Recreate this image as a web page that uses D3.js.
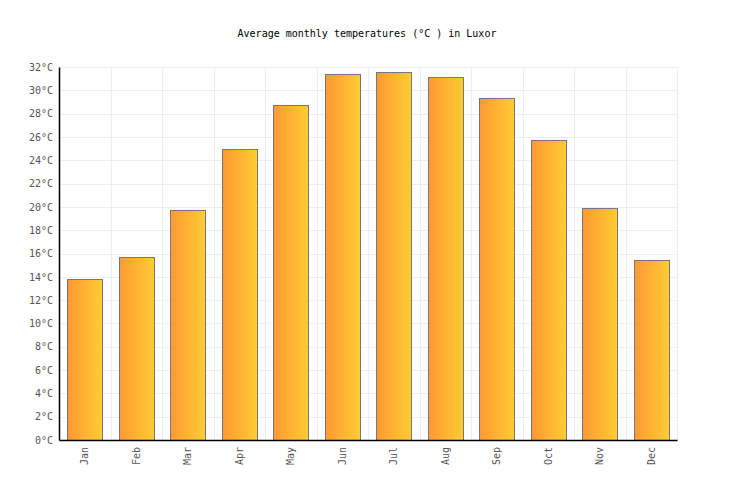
<!DOCTYPE html>
<html><head><meta charset="utf-8">
<script src="https://cdn.jsdelivr.net/npm/d3@7"></script>
<style>body{margin:0;background:#fff}svg{display:block}</style>
</head><body>
<svg id="c" width="736" height="500"></svg>
<script>
const months = ["Jan","Feb","Mar","Apr","May","Jun","Jul","Aug","Sep","Oct","Nov","Dec"];
const temps = [13.8,15.7,19.7,25.0,28.7,31.4,31.6,31.1,29.3,25.7,19.9,15.4];
const yTicks = [0,2,4,6,8,10,12,14,16,18,20,22,24,26,28,30,32];
const title = "Average monthly temperatures (°C ) in Luxor";

const svg = d3.select("#c");
const font = "'DejaVu Sans Mono', monospace";
const L=59, R=677, T=67, B=440;
const x = d3.scaleBand().domain(months).range([L,R]).paddingInner(0.33).paddingOuter(0.165);
const xg = d3.scaleBand().domain(months).range([L,R]);
const y = d3.scaleLinear().domain([0,32]).range([B,T]);

const defs = svg.append("defs");
const g = defs.append("linearGradient").attr("id","gr").attr("x1","0").attr("x2","1").attr("y1","0").attr("y2","0");
g.append("stop").attr("offset","0").attr("stop-color","#ff9933");
g.append("stop").attr("offset","1").attr("stop-color","#ffcc33");

svg.append("text").attr("x",367).attr("y",37).attr("text-anchor","middle")
  .attr("font-family",font).attr("font-size",10).attr("fill","#000").text(title);

// grid
svg.append("g").selectAll("line").data(yTicks).join("line")
  .attr("x1",L).attr("x2",R).attr("y1",d=>Math.round(y(d))+0.5).attr("y2",d=>Math.round(y(d))+0.5)
  .attr("stroke","#eeeeee");
svg.append("g").selectAll("line").data(months).join("line")
  .attr("x1",d=>Math.round(xg(d)+xg.bandwidth())+0.5).attr("x2",d=>Math.round(xg(d)+xg.bandwidth())+0.5)
  .attr("y1",T).attr("y2",B).attr("stroke","#eeeeee");

// bars
svg.append("g").selectAll("rect").data(temps).join("rect")
  .attr("x",(d,i)=>Math.round(x(months[i]))+0.5)
  .attr("width",Math.round(x.bandwidth()))
  .attr("y",d=>Math.round(y(d))+0.5)
  .attr("height",d=>B-Math.round(y(d)))
  .attr("fill","url(#gr)").attr("stroke","#777777").attr("stroke-width",1);

// axes
const ya = svg.append("g").attr("transform",`translate(${L},0)`)
  .call(d3.axisLeft(y).tickValues(yTicks).tickSize(0).tickPadding(6).tickFormat(d=>d+"°C"));
ya.select(".domain").attr("stroke","#000").attr("stroke-width",1.5);
ya.selectAll("text").attr("font-family",font).attr("font-size",10).attr("fill","#555");

const xa = svg.append("g").attr("transform",`translate(0,${B})`)
  .call(d3.axisBottom(x).tickSize(0).tickPadding(0));
xa.select(".domain").attr("stroke","#000").attr("stroke-width",1.5);
xa.selectAll("text").attr("font-family",font).attr("font-size",10).attr("fill","#555")
  .attr("transform","rotate(-90)").attr("text-anchor","end").attr("dy","0.35em").attr("dx","-7").attr("y",0).attr("x",0);
</script>
</body></html>
